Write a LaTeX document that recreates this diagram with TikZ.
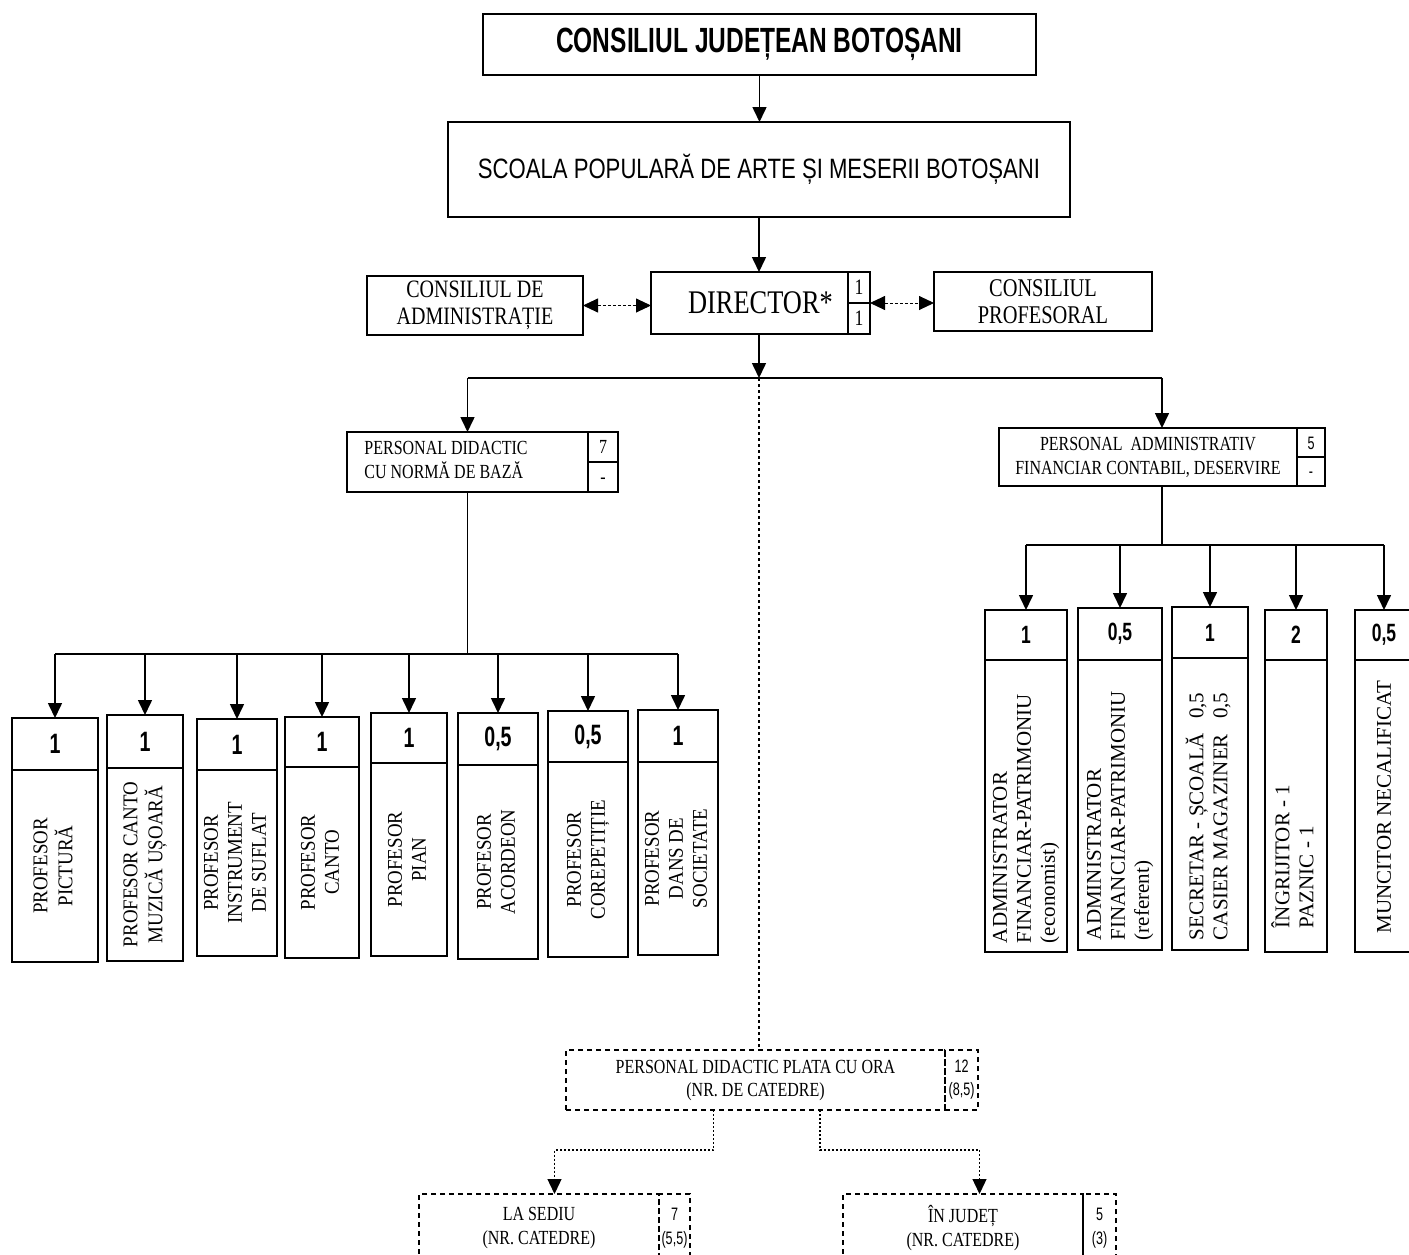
\documentclass[tikz,border=0pt]{standalone}
\usepackage{fontspec}
\usepackage{graphicx}
\setmainfont{Liberation Serif}
\setsansfont{Liberation Sans}
\newfontfamily\narrowserif[FakeStretch=0.8]{Liberation Serif}
\newfontfamily\rotserif[FakeStretch=0.9]{Liberation Serif}
\newfontfamily\condsans[FakeStretch=0.7]{Liberation Sans}
\newfontfamily\schoolfont[FakeStretch=0.79]{Liberation Sans}
\usetikzlibrary{positioning,arrows.meta,calc}

\tikzset{
  box/.style={draw, line width=1.8pt, inner sep=0pt, outer sep=0pt, align=center},
  dbox/.style={draw, line width=1.8pt, dash pattern=on 5pt off 4pt, inner sep=0pt, outer sep=0pt, align=center},
  cell/.style={inner sep=0pt, outer sep=0pt, align=center},
  frame/.style={line width=1.8pt},
  rule/.style={line width=1.1pt},
  link/.style={line width=1.5pt},
  arr/.style={line width=1.6pt, -{Triangle[length=15pt,width=14pt]}},
  dotline/.style={line width=2pt, dash pattern=on 3pt off 3pt},
  dotarr/.style={line width=1.3pt, dash pattern=on 2pt off 2pt, -{Triangle[length=15pt,width=14pt]}},
  dblarr/.style={line width=0.9pt, dash pattern=on 3pt off 2pt, {Triangle[length=15pt,width=14pt]}-{Triangle[length=15pt,width=14pt]}},
  serif20/.style={font=\narrowserif\fontsize{20}{24}\selectfont},
  ltext/.style={font=\rotserif\fontsize{21}{24}\selectfont},
  rtext/.style={cell, font=\fontsize{21}{24}\selectfont},
}

\begin{document}
\begin{tikzpicture}[x=1pt, y=-1pt]
\useasboundingbox (0,0) rectangle (1409,1255);
\clip (0,0) rectangle (1409,1255);

% Council and school
\node[box, minimum width=553pt, minimum height=61pt] (cj) at (759.5,44.5)
  {\condsans\bfseries\fontsize{35}{40}\selectfont CONSILIUL JUDEȚEAN BOTOȘANI};
\node[box, minimum width=622pt, minimum height=95pt] (sp) at (759,169.5)
  {\schoolfont\fontsize{28}{32}\selectfont SCOALA POPULARĂ DE ARTE ȘI MESERII BOTOȘANI};

% Director row
\node[box, minimum width=197pt, minimum height=62pt, font=\narrowserif\fontsize{33}{36}\selectfont] (dir) at (749.5,303) {\hspace*{22pt}DIRECTOR*};
\node[box, right=0pt of dir, minimum width=22pt, minimum height=62pt, font=\narrowserif\fontsize{22}{31}\selectfont] (dirn) {1\\1};
\draw[rule] (dirn.west) -- (dirn.east);
\node[box, minimum width=216pt, minimum height=59pt, font=\narrowserif\fontsize{25}{27}\selectfont] (ca) at (475,305.5) {CONSILIUL DE\\ADMINISTRAȚIE};
\node[box, minimum width=218pt, minimum height=59pt, font=\narrowserif\fontsize{25.5}{27}\selectfont] (cp) at (1043,301.5) {CONSILIUL\\PROFESORAL};
\draw[dblarr] (ca.east) -- (ca.east -| dir.west);
\draw[dblarr] (dirn.east) -- (dirn.east -| cp.west);

% Top links
\coordinate (hub) at (759,378);
\draw[arr] (cj.south) -- (cj.south |- sp.north);
\draw[arr] (sp.south) -- (sp.south |- dir.north);
\draw[arr] (sp.south |- dir.south) -- (hub);

% Staff groups
\node[box, minimum width=241pt, minimum height=60pt, serif20] (pd) at (467.5,462)
  {\begin{tabular}{@{}l@{}}PERSONAL DIDACTIC\\CU NORMĂ DE BAZĂ\end{tabular}\hspace*{43pt}};
\node[box, right=0pt of pd, minimum width=30pt, minimum height=60pt, font=\narrowserif\fontsize{20}{30}\selectfont] (pdn) {7\\-};
\draw[rule] (pdn.west) -- (pdn.east);
\node[box, minimum width=298pt, minimum height=58pt, serif20] (pa) at (1148,457) {PERSONAL\ \ ADMINISTRATIV\\FINANCIAR CONTABIL, DESERVIRE};
\node[box, right=0pt of pa, minimum width=28pt, minimum height=58pt, font=\condsans\fontsize{18}{28}\selectfont] (pan) {5\\-};
\draw[rule] (pan.west) -- (pan.east);
\coordinate (paTop) at ($(pa.north west)!0.5!(pan.north east)$);
\coordinate (paBot) at ($(pa.south west)!0.5!(pan.south east)$);
\draw[link] (pd.north |- hub) -- (paTop |- hub);
\draw[arr] (pd.north |- hub) -- (pd.north);
\draw[arr] (paTop |- hub) -- (paTop);

% Teachers
\coordinate (busL) at (0,654);
\foreach \i/\xl/\xr/\yt/\yd/\yb/\num/\txt in {
  1/12/98/718/770/962/{1}/{PROFESOR\\PICTURĂ},
  2/107/183/715/768/961/{1}/{PROFESOR CANTO\\MUZICĂ UȘOARĂ},
  3/197/277/719/770/956/{1}/{PROFESOR\\INSTRUMENT\\DE SUFLAT},
  4/285/359/717/767/958/{1}/{PROFESOR\\CANTO},
  5/371/447/713/763/956/{1}/{PROFESOR\\PIAN},
  6/458/538/713/765/959/{0,5}/{PROFESOR\\ACORDEON},
  7/548/628/711/762/957/{0,5}/{PROFESOR\\COREPETIȚIE},
  8/638/718/710/762/955/{1}/{PROFESOR\\DANS DE\\SOCIETATE}}
{
  \node[cell, anchor=north west, minimum width={(\xr-\xl)*1pt}, minimum height={(\yd-\yt)*1pt},
    font=\condsans\bfseries\fontsize{28}{30}\selectfont] (ln\i) at (\xl,\yt) {\num};
  \node[cell, ltext, below=0pt of ln\i, minimum width={(\xr-\xl)*1pt}, minimum height={(\yb-\yd)*1pt}] (lb\i)
    {\rotatebox{90}{\begin{tabular}{@{}c@{}}\txt\end{tabular}}};
  \draw[frame] (ln\i.north west) rectangle (lb\i.south east);
  \draw[rule] (ln\i.south west) -- (ln\i.south east);
  \draw[arr] (ln\i.north |- busL) -- (ln\i.north);
}
\draw[link] (pd.south) -- (pd.south |- busL);
\draw[link] (ln1.north |- busL) -- (ln8.north |- busL);

% Administrative staff
\coordinate (busR) at (0,545);
\foreach \i/\xl/\xr/\yt/\yd/\yb/\num in {
  1/985/1067/610/660/952/{1},
  2/1078/1162/608/660/950/{0,5},
  3/1172/1248/607/658/950/{1},
  4/1265/1327/610/660/952/{2},
  5/1355/1413/610/660/952/{0,5}}
{
  \node[cell, anchor=north west, minimum width={(\xr-\xl)*1pt}, minimum height={(\yd-\yt)*1pt},
    font=\condsans\bfseries\fontsize{25}{28}\selectfont] (rn\i) at (\xl,\yt) {\num};
  \node[cell, below=0pt of rn\i, minimum width={(\xr-\xl)*1pt}, minimum height={(\yb-\yd)*1pt}] (rb\i) {};
  \draw[frame] (rn\i.north west) rectangle (rb\i.south east);
  \draw[rule] (rn\i.south west) -- (rn\i.south east);
  \draw[arr] (rn\i.north |- busR) -- (rn\i.north);
}
\node[rtext, above=9pt of rb1.south] (rt1) {\rotatebox{90}{\begin{tabular}{@{}l@{}}ADMINISTRATOR\\FINANCIAR-PATRIMONIU\\(economist)\end{tabular}}};
\node[rtext, above=10pt of rb2.south] (rt2) {\rotatebox{90}{\begin{tabular}{@{}l@{}}ADMINISTRATOR\\FINANCIAR-PATRIMONIU\\(referent)\end{tabular}}};
\node[rtext, above=10pt of rb3.south] (rt3) {\rotatebox{90}{\begin{tabular}{@{}l@{\hspace{14pt}}r@{}}SECRETAR - ȘCOALĂ & 0,5\\CASIER MAGAZINER & 0,5\end{tabular}}};
\node[rtext, above=24pt of rb4.south] (rt4) {\rotatebox{90}{\begin{tabular}{@{}l@{}}ÎNGRIJITOR - 1\\PAZNIC - 1\end{tabular}}};
\node[rtext, above=19pt of rb5.south] (rt5) {\rotatebox{90}{MUNCITOR NECALIFICAT}};
\draw[link] (paBot) -- (paBot |- busR);
\draw[link] (rn1.north |- busR) -- (rn5.north |- busR);

% Hourly paid teachers
\node[dbox, minimum width=379pt, minimum height=60pt, font=\narrowserif\fontsize{20}{23}\selectfont] (pdo) at (755.5,1080) {PERSONAL DIDACTIC PLATA CU ORA\\(NR. DE CATEDRE)};
\node[dbox, right=0pt of pdo, minimum width=33pt, minimum height=60pt, font=\condsans\fontsize{18}{23}\selectfont] (pdon) {12\\(8,5)};
\draw[dotline] (hub) -- (hub |- pdo.north);

\node[dbox, minimum width=240pt, minimum height=68pt, serif20] (ls) at (539,1228) {LA SEDIU\\(NR. CATEDRE)};
\node[dbox, right=0pt of ls, minimum width=31pt, minimum height=68pt, font=\condsans\fontsize{18}{24}\selectfont] (lsn) {7\\(5,5)};
\node[dbox, minimum width=240pt, minimum height=68pt, serif20] (ij) at (963,1228) {ÎN JUDEȚ\\(NR. CATEDRE)};
\node[dbox, right=0pt of ij, minimum width=33pt, minimum height=68pt, font=\condsans\fontsize{18}{24}\selectfont] (ijn) {5\\(3)};

\coordinate (s1) at ($(pdo.south west)!0.39!(pdo.south east)$);
\coordinate (s2) at ($(pdo.south west)!0.67!(pdo.south east)$);
\coordinate (lsTop) at ($(ls.north west)!0.5!(lsn.north east)$);
\coordinate (ijTop) at ($(ij.north west)!0.5!(ijn.north east)$);
\draw[dotarr] (s1) -- ++(0,40) -| (lsTop);
\draw[dotarr] (s2) -- ++(0,40) -| (ijTop);

\end{tikzpicture}
\end{document}
